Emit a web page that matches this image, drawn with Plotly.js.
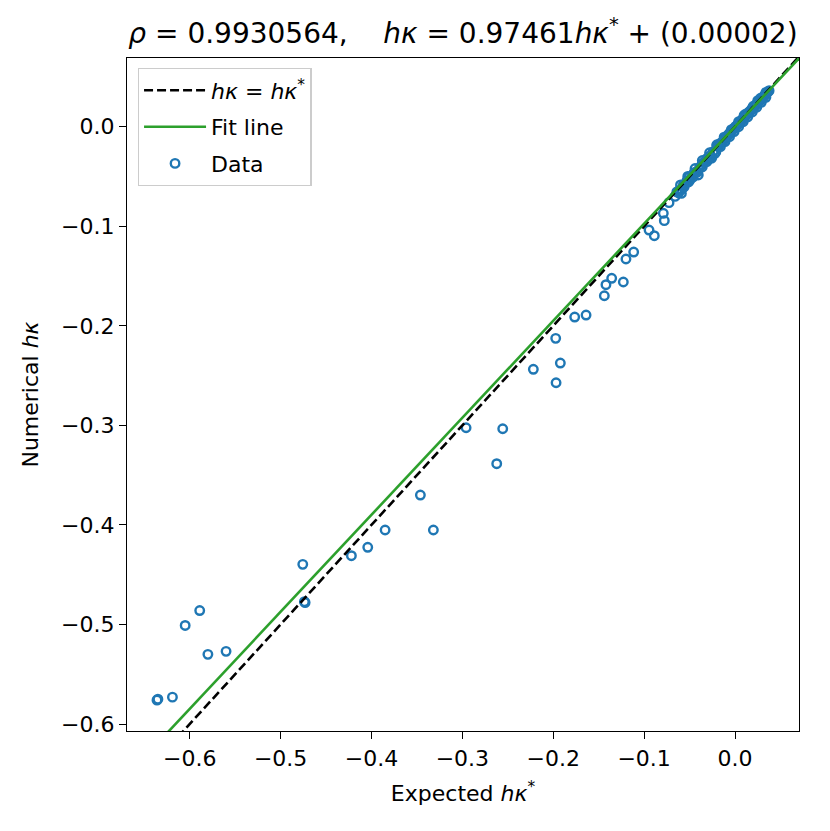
<!DOCTYPE html>
<html>
<head>
<meta charset="utf-8">
<script src="https://cdn.plot.ly/plotly-3.0.1.min.js"></script>
<style>
  html, body { margin: 0; padding: 0; background: #fff; }
  #myDiv { width: 830px; height: 831px; }
</style>
</head>
<body>
<div id="myDiv"></div>
<script>
// expected h*kappa (x) and numerical h*kappa (y)
var expectedVec = [
  -0.635, -0.636, -0.619, -0.605, -0.589, -0.580, -0.560, -0.473, -0.4756, -0.4738,
  -0.4221, -0.4041, -0.385, -0.3462, -0.3319, -0.2959, -0.2622, -0.2556,
  -0.2219, -0.1969, -0.1973, -0.1922, -0.1764, -0.1639, -0.1438, -0.142, -0.1357, -0.1229,
  -0.12, -0.1115, -0.0946, -0.0888, -0.0789, -0.0778, -0.0726,
  -0.066, -0.064, -0.0615, -0.059, -0.0587, -0.057, -0.055, -0.053, -0.0502, -0.0495,
  -0.047, -0.045, -0.043, -0.0404, -0.039, -0.0367, -0.035, -0.033, -0.031, -0.029,
  -0.027, -0.0257, -0.024, -0.022, -0.020, -0.0184, -0.0165, -0.015, -0.013, -0.0115,
  -0.010, -0.0085, -0.007, -0.0055, -0.004, -0.0025, -0.001, 0.0005, 0.002, 0.0035,
  0.005, 0.0065, 0.008, 0.0095, 0.010, 0.011, 0.0125, 0.014, 0.0155, 0.017, 0.0185,
  0.020, 0.0215, 0.023, 0.0245, 0.025, 0.026, 0.0275, 0.029, 0.0305, 0.032, 0.0335,
  0.035, 0.0365, 0.0375,
  // lower edge of the dense band
  -0.062, -0.056, -0.051, -0.046, -0.041, -0.036, -0.031, -0.026, -0.021, -0.016,
  -0.011, -0.006, -0.001, 0.004, 0.009, 0.014, 0.019, 0.024, 0.029, 0.034,
  // upper edge of the dense band
  -0.060, -0.052, -0.044, -0.036, -0.028, -0.020, -0.012, -0.004, 0.004, 0.012,
  0.020, 0.028, 0.034
];
var numericalVec = [
  -0.575, -0.576, -0.573, -0.501, -0.486, -0.530, -0.527, -0.478, -0.4396, -0.4771,
  -0.4309, -0.4225, -0.4051, -0.370, -0.4051, -0.3024, -0.3385, -0.3034,
  -0.2437, -0.2572, -0.2126, -0.2374, -0.1912, -0.1892, -0.1698, -0.1587, -0.1523, -0.156,
  -0.1329, -0.1259, -0.1038, -0.1095, -0.087, -0.0944, -0.0763,
  -0.070, -0.0655, -0.064, -0.067, -0.0629, -0.059, -0.0575, -0.0545, -0.0502, -0.0535,
  -0.049, -0.0462, -0.0455, -0.0485, -0.041, -0.0385, -0.0362, -0.0352, -0.032, -0.0305,
  -0.029, -0.0317, -0.025, -0.0267, -0.019, -0.0201, -0.017, -0.016, -0.0145, -0.012,
  -0.011, -0.0092, -0.0078, -0.006, -0.0048, -0.003, -0.0015, 0.0002, 0.0012, 0.003,
  0.0043, 0.0058, 0.007, 0.0088, 0.0115, 0.010, 0.0118, 0.013, 0.0148, 0.016, 0.0178,
  0.019, 0.0205, 0.022, 0.0236, 0.0262, 0.025, 0.0265, 0.028, 0.0295, 0.031, 0.0325,
  0.034, 0.0352, 0.0362,
  -0.0665, -0.0605, -0.0555, -0.0505, -0.0455, -0.0405, -0.0352, -0.0302, -0.0252, -0.0200,
  -0.0150, -0.0100, -0.0050, 0.0000, 0.0050, 0.0098, 0.0148, 0.0196, 0.0245, 0.0295,
  -0.0585, -0.0500, -0.0420, -0.0340, -0.0262, -0.0182, -0.0105, -0.0030, 0.0050, 0.0128,
  0.0205, 0.0285, 0.0345
];

// fit coefficients from the title
var fitSlope = 0.97461;
var fitIntercept = 0.00002;
var lineX = [-0.7, 0.1];

var xTicks = [-0.6, -0.5, -0.4, -0.3, -0.2, -0.1, 0.0];
var yTicks = [-0.6, -0.5, -0.4, -0.3, -0.2, -0.1, 0.0];

var traceData = {
    x: expectedVec,
    y: numericalVec,
    mode: 'markers',
    type: 'scatter',
    name: 'Data',
    legendrank: 3,
    legendgroup: 'c',
    marker: {
        symbol: 'circle-open',
        size: 8.5,
        color: '#1f77b4',
        line: { width: 2.4, color: '#1f77b4' }
    }
};

var traceIdentity = {
    x: lineX,
    y: lineX,
    mode: 'lines',
    type: 'scatter',
    name: '<i>hκ</i> = <i>hκ</i><sup>*</sup>',
    legendrank: 1,
    legendgroup: 'a',
    line: { color: 'black', width: 2.6, dash: '9px,4px' }
};

var traceFit = {
    x: lineX,
    y: lineX.map(v => fitSlope * v + fitIntercept),
    mode: 'lines',
    type: 'scatter',
    name: 'Fit line',
    legendrank: 2,
    legendgroup: 'b',
    line: { color: '#2ca02c', width: 2.6 }
};

var fnt = { family: 'DejaVu Sans', size: 22, color: 'black' };

var layout = {
    width: 830,
    height: 831,
    margin: { l: 127, r: 31, t: 58, b: 100 },
    paper_bgcolor: 'white',
    plot_bgcolor: 'white',
    font: fnt,
    showlegend: true,
    title: {
        text: '<i>ρ</i> = 0.9930564,    <i>hκ</i> = 0.97461<i>hκ</i><sup>*</sup> + (0.00002)',
        font: { family: 'DejaVu Sans', size: 28, color: 'black' },
        x: 0.5578, xanchor: 'center',
        y: 0.960, yanchor: 'middle'
    },
    legend: {
        x: 0.016, y: 0.985,
        xanchor: 'left', yanchor: 'top',
        traceorder: 'grouped',
        bgcolor: 'rgba(255,255,255,0.8)',
        bordercolor: '#cccccc',
        borderwidth: 1.3,
        font: fnt,
        itemwidth: 62,
        tracegroupgap: 5
    },
    xaxis: {
        range: [-0.669, 0.0704],
        tickvals: xTicks,
        tickformat: '.1f',
        ticks: 'outside',
        ticklen: 7,
        tickwidth: 1.3,
        tickcolor: 'black',
        showgrid: false,
        zeroline: false,
        showline: true,
        linecolor: 'black',
        linewidth: 1.3,
        mirror: true,
        tickfont: fnt,
        title: { text: 'Expected <i>hκ</i><sup>*</sup>', font: fnt, standoff: 16 }
    },
    yaxis: {
        range: [-0.607, 0.069],
        tickvals: yTicks,
        tickformat: '.1f',
        ticks: 'outside',
        ticklen: 7,
        tickwidth: 1.3,
        tickcolor: 'black',
        showgrid: false,
        zeroline: false,
        showline: true,
        linecolor: 'black',
        linewidth: 1.3,
        mirror: true,
        tickfont: fnt,
        title: { text: 'Numerical <i>hκ</i>', font: fnt, standoff: 16 }
    }
};

Plotly.newPlot('myDiv', [traceData, traceIdentity, traceFit], layout, { displayModeBar: false });
</script>
</body>
</html>
